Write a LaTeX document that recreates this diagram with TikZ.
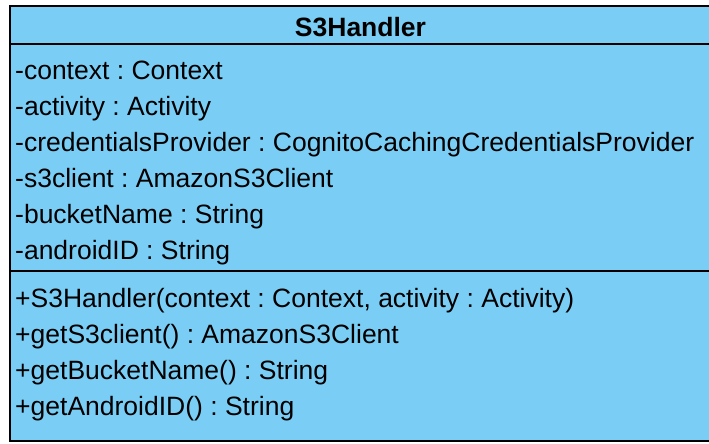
\documentclass[tikz,border=0pt]{standalone}
\usepackage{fontspec}
\setmainfont{Liberation Sans}
\frenchspacing
\definecolor{umlfill}{RGB}{122,206,245}
\begin{document}
\begin{tikzpicture}[x=1pt,y=-1pt,
  member/.style={anchor=base west,inner sep=0pt,font=\fontsize{26.5}{30}\selectfont},
  titletext/.style={anchor=base,inner sep=0pt,font=\fontsize{26.5}{30}\selectfont\bfseries},
  border/.style={line width=2pt,draw=black}]
\useasboundingbox (0,0) rectangle (709,444);
\draw[border,fill=umlfill] (9.5,6) rectangle (716,441);
\draw[border] (9.5,44.5) -- (716,44.5);
\draw[border] (9.5,271) -- (716,271);
\node[titletext] (title) at (360.5,37) {S3Handler};
\node[member] (a1) at (15,79) {-context : Context};
\node[member] (a2) at (15,115) {-activity : Activity};
\node[member] (a3) at (15,151) {-credentialsProvider : CognitoCachingCredentialsProvider};
\node[member] (a4) at (15,187) {-s3client : AmazonS3Client};
\node[member] (a5) at (15,223) {-bucketName : String};
\node[member] (a6) at (15,259) {-androidID : String};
\node[member] (m1) at (15,307) {+S3Handler(context : Context, activity : Activity)};
\node[member] (m2) at (15,343) {+getS3client() : AmazonS3Client};
\node[member] (m3) at (15,379) {+getBucketName() : String};
\node[member] (m4) at (15,415) {+getAndroidID() : String};
\end{tikzpicture}
\end{document}
